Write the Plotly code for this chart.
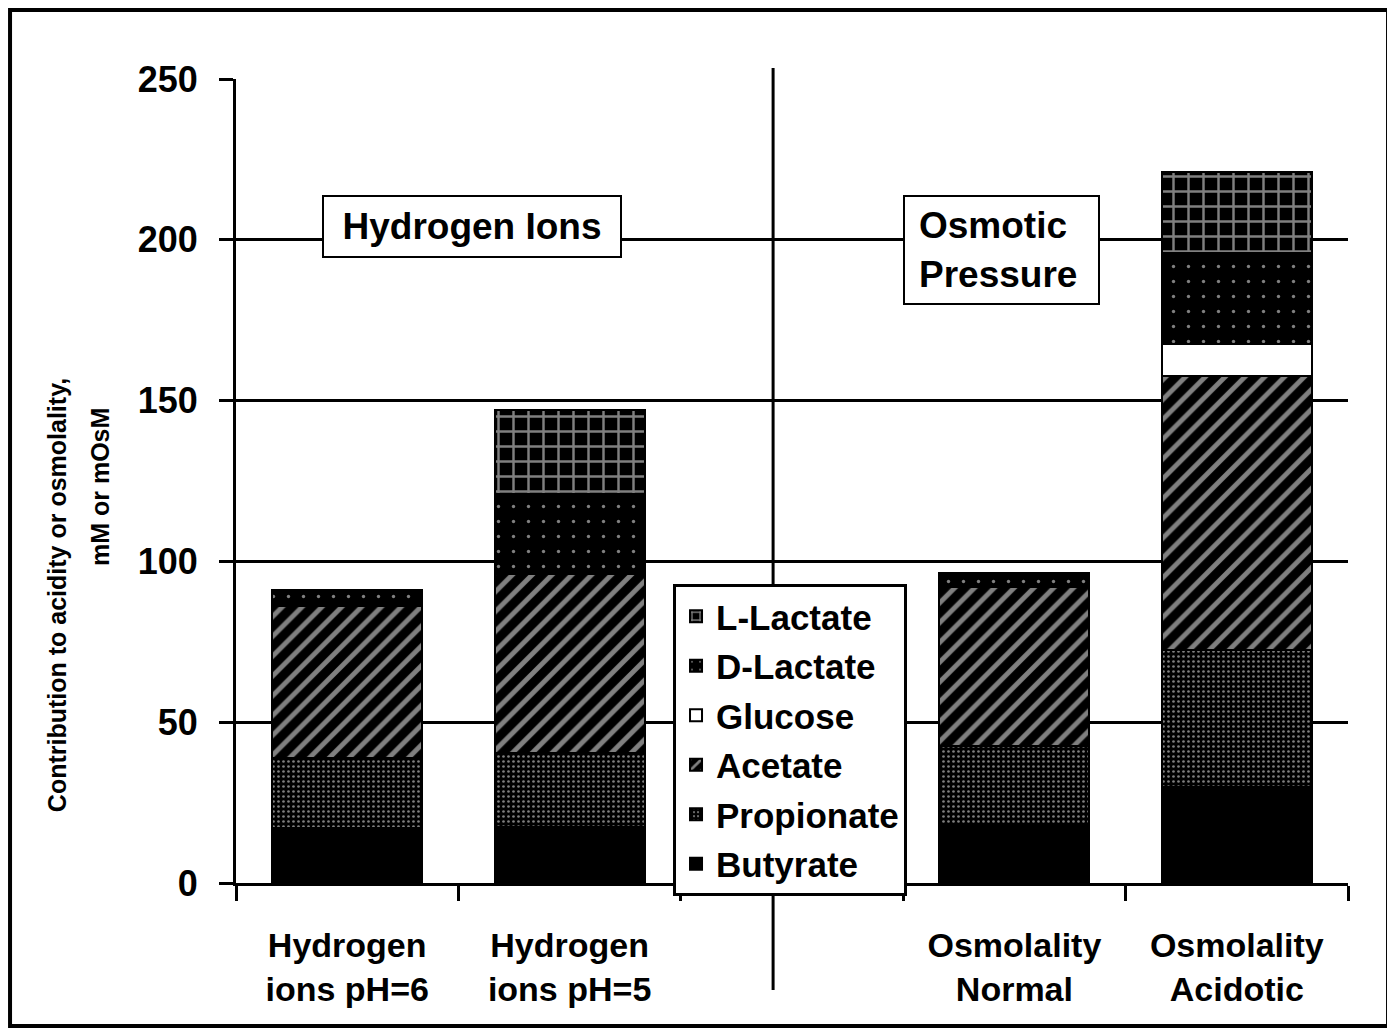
import plotly.graph_objects as go

categories = ["Hydrogen<br>ions pH=6", "Hydrogen<br>ions pH=5", "", "Osmolality<br>Normal", "Osmolality<br>Acidotic"]
butyrate = [17, 17.5, None, 18.5, 30]
propionate = [22, 23, None, 24, 42.5]
acetate = [47, 55.5, None, 49.5, 85]
glucose = [None, None, None, None, 10]
d_lactate = [5, 25, None, 4.5, 28.5]
l_lactate = [None, 26, None, None, 25]
y_ticks = [0, 50, 100, 150, 200, 250]

FONT = "Liberation Sans, Arial, sans-serif"
xpos = list(range(len(categories)))

series = [
    ("Butyrate", butyrate, dict(color="black")),
    ("Propionate", propionate, dict(color="black", pattern=dict(shape=".", size=5, solidity=0.22, fgcolor="white", bgcolor="black"))),
    ("Acetate", acetate, dict(color="black", pattern=dict(shape="/", size=14, solidity=0.35, fgcolor="white", bgcolor="black"))),
    ("Glucose", glucose, dict(color="white")),
    ("D-Lactate", d_lactate, dict(color="black", pattern=dict(shape=".", size=15, solidity=0.04, fgcolor="white", bgcolor="black"))),
    ("L-Lactate", l_lactate, dict(color="black", pattern=dict(shape="+", size=15, solidity=0.3, fgcolor="white", bgcolor="black"))),
]

fig = go.Figure()
n = len(series)
for i, (name, vals, marker) in enumerate(series):
    marker = dict(marker)
    marker["line"] = dict(color="black", width=2)
    fig.add_trace(go.Bar(x=xpos, y=vals, name=name, marker=marker, width=0.675,
                         legendgroup=name, legendrank=n - i))

# page has an 8px body margin, so the figure is 8px smaller than the window
fig.update_layout(
    width=1387, height=1026,
    barmode="stack",
    paper_bgcolor="white", plot_bgcolor="white",
    margin=dict(l=228, r=47, t=71, b=151),
    font=dict(family=FONT, color="black"),
    legend=dict(
        x=0.393, y=0.372, xanchor="left", yanchor="top",
        traceorder="grouped", tracegroupgap=1,
        bordercolor="black", borderwidth=3, bgcolor="white",
        font=dict(size=35, family=FONT, weight="bold"),
    ),
    xaxis=dict(
        range=[-0.5, 4.5], tickmode="array", tickvals=xpos, ticktext=categories,
        ticks="", showgrid=False, showline=True, linecolor="black", linewidth=3,
        tickfont=dict(size=34, family=FONT, weight="bold"),
        ticklabelstandoff=30,
        minor=dict(tickmode="array", tickvals=[p - 0.5 for p in xpos] + [xpos[-1] + 0.5],
                   ticks="outside", ticklen=15, tickwidth=3, tickcolor="black", showgrid=False),
        zeroline=False,
    ),
    yaxis=dict(
        range=[0, 250], tickmode="array", tickvals=y_ticks,
        ticks="outside", ticklen=14, tickwidth=3, tickcolor="black",
        showgrid=True, gridcolor="black", gridwidth=3,
        showline=True, linecolor="black", linewidth=3, zeroline=False,
        tickfont=dict(size=36, family=FONT, weight="bold"),
        ticklabelstandoff=14,
    ),
)

# y-axis title: two right-aligned rotated lines
fig.add_annotation(
    text="Contribution to acidity or osmolality,",
    xref="paper", yref="paper", x=-0.161, y=0.358, xanchor="center", yanchor="middle",
    textangle=-90, showarrow=False, font=dict(size=25, family=FONT, weight="bold"),
)
fig.add_annotation(
    text="mM or mOsM",
    xref="paper", yref="paper", x=-0.1223, y=0.4925, xanchor="center", yanchor="middle",
    textangle=-90, showarrow=False, font=dict(size=25, family=FONT, weight="bold"),
)
fig.add_annotation(
    text="Hydrogen Ions", xref="paper", yref="paper", x=0.2122, y=0.817,
    xanchor="center", yanchor="middle", width=284, height=47,
    showarrow=False, font=dict(size=37, family=FONT, weight="bold"),
    bordercolor="black", borderwidth=2, borderpad=6, bgcolor="white",
)
fig.add_annotation(
    text="Osmotic<br>Pressure", xref="paper", yref="paper", x=0.688, y=0.787,
    xanchor="center", yanchor="middle", width=165, height=78,
    showarrow=False, align="left", font=dict(size=37, family=FONT, weight="bold"),
    bordercolor="black", borderwidth=2, borderpad=14, bgcolor="white",
)

# divider line between the two sections
fig.add_shape(type="line", xref="paper", yref="paper", x0=0.483, x1=0.483, y0=-0.133, y1=1.0137,
              line=dict(color="black", width=3), layer="below")
# outer frame
fig.add_shape(type="rect", xref="paper", yref="paper", x0=-0.2032, x1=1.036, y0=-0.1779, y1=1.0858,
              line=dict(color="black", width=4))

fig.write_html("out.html")
